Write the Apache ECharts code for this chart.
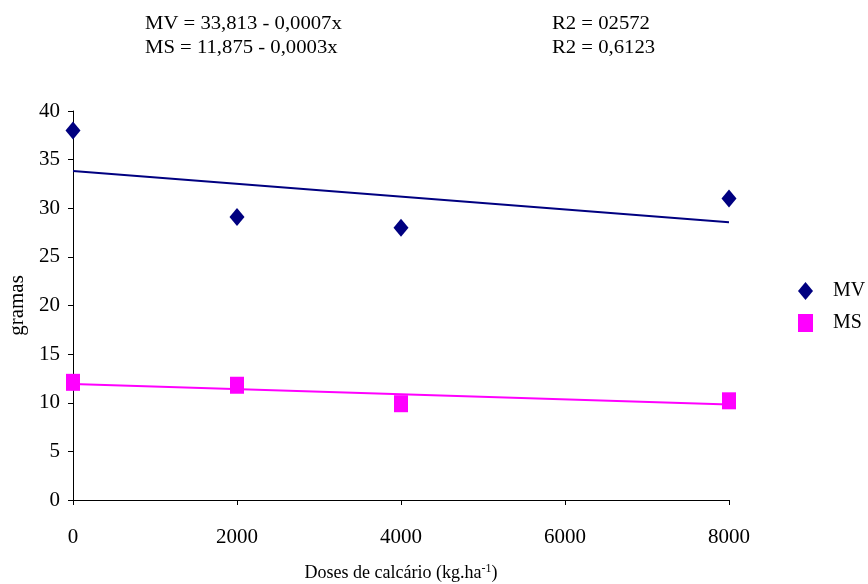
<!DOCTYPE html>
<html>
<head>
<meta charset="utf-8">
<script src="https://cdn.jsdelivr.net/npm/echarts@6/dist/echarts.min.js"></script>
<style>
  html, body { margin: 0; padding: 0; background: #fff; }
  #chart { width: 868px; height: 584px; }
</style>
</head>
<body>
<div id="chart"></div>
<script>
// Doses of lime (kg/ha) and measured mass (grams)
const doses = [0, 2000, 4000, 8000];
const mvValues = [38.0, 29.1, 28.0, 31.0];
const msValues = [12.1, 11.8, 9.9, 10.2];
const xTicks = [0, 2000, 4000, 6000, 8000];
const yTicks = [0, 5, 10, 15, 20, 25, 30, 35, 40];

// Least-squares fit used for the trend lines
function linearFit(xs, ys) {
  const n = xs.length;
  const mx = xs.reduce((a, b) => a + b, 0) / n;
  const my = ys.reduce((a, b) => a + b, 0) / n;
  let sxy = 0, sxx = 0;
  for (let i = 0; i < n; i++) {
    sxy += (xs[i] - mx) * (ys[i] - my);
    sxx += (xs[i] - mx) * (xs[i] - mx);
  }
  const slope = sxy / sxx;
  const intercept = my - slope * mx;
  return x => intercept + slope * x;
}
const fitMV = linearFit(doses, mvValues);
const fitMS = linearFit(doses, msValues);
const xMin = doses[0], xMax = doses[doses.length - 1];

const font = '"Liberation Serif", "Times New Roman", serif';
const chart = echarts.init(document.getElementById('chart'));

// Equation / R² annotations above the plot (slightly widened serif)
function note(text, left, top) {
  return {
    type: 'text', left: left, top: top, scaleX: 1.15,
    style: { text: text, font: '18px ' + font, fill: '#000' }
  };
}

chart.setOption({
  backgroundColor: '#fff',
  animation: false,
  textStyle: { fontFamily: font, color: '#000' },
  graphic: [
    note('MV = 33,813 - 0,0007x', 145, 15),
    note('MS = 11,875 - 0,0003x', 145, 39),
    note('R2 = 02572', 552, 15),
    note('R2 = 0,6123', 552, 39)
  ],
  legend: {
    orient: 'vertical',
    left: 793,
    top: 276,
    itemGap: 12,
    itemWidth: 15,
    itemHeight: 18,
    textStyle: { fontFamily: font, fontSize: 20, color: '#000', padding: [0, 0, 0, 15] },
    data: [
      { name: 'MV', icon: 'diamond' },
      { name: 'MS', icon: 'rect' }
    ]
  },
  grid: { left: 73, right: 139, top: 111, bottom: 84, containLabel: false, outerBoundsMode: 'none' },
  xAxis: {
    type: 'value',
    min: xTicks[0],
    max: xTicks[xTicks.length - 1],
    interval: xTicks[1] - xTicks[0],
    name: '{a|Doses de calcário (kg.ha}{s|-1}{a|)}',
    nameLocation: 'middle',
    nameGap: 63,
    nameTextStyle: {
      rich: {
        a: { fontFamily: font, fontSize: 18, color: '#000' },
        s: { fontFamily: font, fontSize: 12, color: '#000', verticalAlign: 'top', padding: [0, 0, 8, 0] }
      }
    },
    axisLine: { show: true, onZero: false, lineStyle: { color: '#000', width: 1 } },
    axisTick: { show: true, length: 5, lineStyle: { color: '#000' } },
    axisLabel: { fontFamily: font, fontSize: 21, color: '#000', margin: 27, formatter: v => String(v) },
    splitLine: { show: false }
  },
  yAxis: {
    type: 'value',
    min: yTicks[0],
    max: yTicks[yTicks.length - 1],
    interval: yTicks[1] - yTicks[0],
    name: 'gramas',
    nameLocation: 'middle',
    nameGap: 44,
    nameRotate: 90,
    nameTextStyle: { fontFamily: font, fontSize: 21, color: '#000' },
    axisLine: { show: true, lineStyle: { color: '#000', width: 1 } },
    axisTick: { show: true, length: 5, lineStyle: { color: '#000' } },
    axisLabel: { fontFamily: font, fontSize: 21, color: '#000', margin: 13 },
    splitLine: { show: false }
  },
  series: [
    {
      name: 'MV trend',
      type: 'line',
      showSymbol: false,
      silent: true,
      lineStyle: { color: '#000080', width: 2 },
      data: [[xMin, fitMV(xMin)], [xMax, fitMV(xMax)]],
      z: 1
    },
    {
      name: 'MS trend',
      type: 'line',
      showSymbol: false,
      silent: true,
      lineStyle: { color: '#FF00FF', width: 2 },
      data: [[xMin, fitMS(xMin)], [xMax, fitMS(xMax)]],
      z: 1
    },
    {
      name: 'MV',
      type: 'scatter',
      symbol: 'diamond',
      symbolSize: [15, 18],
      itemStyle: { color: '#000080', opacity: 1 },
      data: doses.map((d, i) => [d, mvValues[i]]),
      z: 3
    },
    {
      name: 'MS',
      type: 'scatter',
      symbol: 'rect',
      symbolSize: [14, 17],
      itemStyle: { color: '#FF00FF', opacity: 1 },
      data: doses.map((d, i) => [d, msValues[i]]),
      z: 3
    }
  ]
});
</script>
</body>
</html>
